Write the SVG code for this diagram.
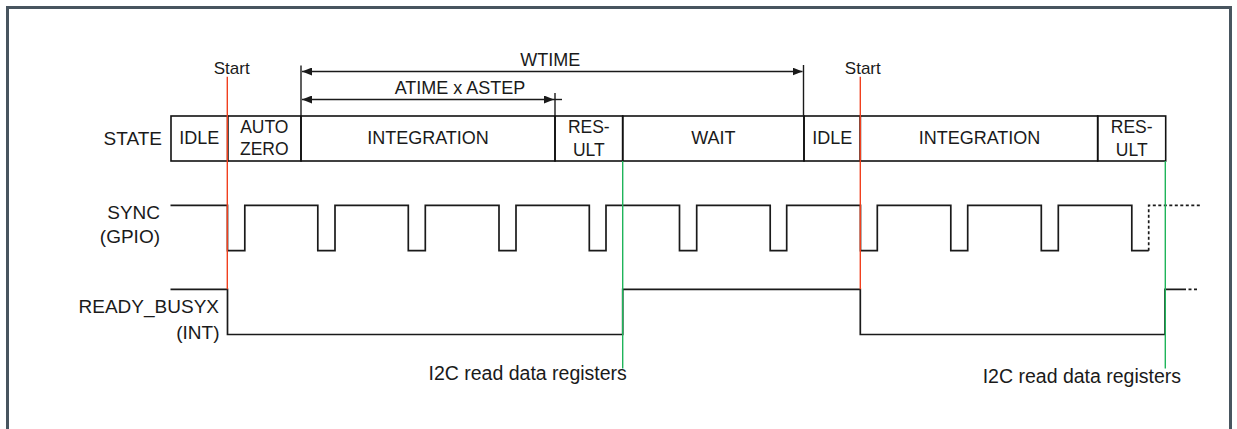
<svg xmlns="http://www.w3.org/2000/svg" width="1237" height="429" viewBox="0 0 1237 429">
<style>
text{font-family:"Liberation Sans",Arial,sans-serif;fill:#1a1a1a}
.lbl{font-size:19px}
.st{font-size:18px;text-anchor:middle}
.st2{font-size:17.5px;text-anchor:middle}
.ann{font-size:18px;text-anchor:middle}
.cell{fill:none;stroke:#111;stroke-width:1.6}
.wave{fill:none;stroke:#1a1a1a;stroke-width:1.7;stroke-linejoin:miter}
.dash{fill:none;stroke:#1a1a1a;stroke-width:1.7;stroke-dasharray:3 2.5}
.red{stroke:#f0401e;stroke-width:1.4;fill:none}
.grn{stroke:#1fb45a;stroke-width:1.4;fill:none}
.dim{stroke:#1a1a1a;stroke-width:1.4;fill:none}
</style>
<defs>
<marker id="ah" viewBox="0 0 10 8" refX="10" refY="4" markerWidth="10" markerHeight="8" markerUnits="userSpaceOnUse" orient="auto-start-reverse">
<path d="M0,0 L10,4 L0,8 z" fill="#1a1a1a"/>
</marker>
</defs>
<rect x="7.5" y="7.5" width="1223" height="440" fill="#fff" stroke="#48555f" stroke-width="3"/>

<g id="state-label"><text class="lbl" x="162" y="145" text-anchor="end">STATE</text></g>
<g id="sync-label"><text class="lbl" x="160" y="218.5" text-anchor="end">SYNC</text><text class="lbl" x="160" y="242.5" text-anchor="end">(GPIO)</text></g>
<g id="ready-label"><text class="lbl" x="219" y="312.5" text-anchor="end">READY_BUSYX</text><text class="lbl" x="219.5" y="338.5" text-anchor="end">(INT)</text></g>

<g id="state-idle1"><rect class="cell" x="171" y="116" width="56.7" height="45"/><text class="st" x="199.3" y="144">IDLE</text></g>
<g id="state-autozero"><rect class="cell" x="227.7" y="116" width="73.3" height="45"/><text class="st2" x="264.3" y="133.3">AUTO</text><text class="st2" x="264.3" y="155">ZERO</text></g>
<g id="state-integration1"><rect class="cell" x="301" y="116" width="254" height="45"/><text class="st" x="428" y="144">INTEGRATION</text></g>
<g id="state-result1"><rect class="cell" x="555" y="116" width="67.7" height="45"/><text class="st2" x="588.8" y="133.3">RES-</text><text class="st2" x="588.8" y="155.5">ULT</text></g>
<g id="state-wait"><rect class="cell" x="622.7" y="116" width="181.3" height="45"/><text class="st" x="713.3" y="144">WAIT</text></g>
<g id="state-idle2"><rect class="cell" x="804" y="116" width="56.3" height="45"/><text class="st" x="832.2" y="144">IDLE</text></g>
<g id="state-integration2"><rect class="cell" x="860.3" y="116" width="237.4" height="45"/><text class="st" x="979.5" y="144">INTEGRATION</text></g>
<g id="state-result2"><rect class="cell" x="1097.7" y="116" width="68" height="45"/><text class="st2" x="1131.7" y="133.3">RES-</text><text class="st2" x="1131.7" y="155.5">ULT</text></g>

<g id="sync-wave">
<path class="wave" d="M170.5,205.3 H227.5 V250.7 H244.8 V205.3 H317.8 V250.7 H335 V205.3 H408.3 V250.7 H425.3 V205.3 H499 V250.7 H516 V205.3 H589.3 V250.7 H606 V205.3 H679.5 V250.7 H696.7 V205.3 H770.2 V250.7 H786.7 V205.3 H860.5 V250.7 H877.3 V205.3 H950.8 V250.7 H967.7 V205.3 H1041.3 V250.7 H1058.3 V205.3 H1131.8 V250.7 H1148.7"/>
<path class="dash" d="M1148.7,250.7 V205.3 H1200"/>
</g>
<g id="ready-wave">
<path class="wave" d="M170.5,289.3 H227.5 V334.5 H622.7 V289.3 H860.3 V334.5 H1165 V289.3 H1183"/>
<path class="dash" d="M1183,289.3 H1199"/>
</g>

<g id="start1"><text class="ann" x="231.7" y="74" style="font-size:17px">Start</text></g>
<g id="start2"><text class="ann" x="862.8" y="74" style="font-size:17px">Start</text></g>
<g id="i2c1"><text class="lbl" x="428.5" y="380" style="font-size:19.5px">I2C read data registers</text></g>
<g id="i2c2"><text class="lbl" x="982.7" y="383" style="font-size:19.5px">I2C read data registers</text></g>
<g id="wtime-label"><text class="ann" x="550.3" y="66">WTIME</text></g>
<g id="atime-label"><text class="ann" x="460" y="94">ATIME x ASTEP</text></g>

<g id="connectors">
<line class="dim" x1="301" y1="65.5" x2="301" y2="116"/>
<line class="dim" x1="803.5" y1="65" x2="803.5" y2="116"/>
<line class="dim" x1="555" y1="93" x2="555" y2="116"/>
<line class="dim" x1="302" y1="71.5" x2="802.5" y2="71.5" marker-start="url(#ah)" marker-end="url(#ah)"/>
<line class="dim" x1="302" y1="99.5" x2="554" y2="99.5" marker-start="url(#ah)" marker-end="url(#ah)"/>
<line class="dim" x1="554" y1="99.5" x2="562" y2="99.5"/>
<line class="red" x1="227.3" y1="76.7" x2="227.3" y2="289.3"/>
<line class="red" x1="860.3" y1="76.7" x2="860.3" y2="289.3"/>
<line class="grn" x1="622.7" y1="161" x2="622.7" y2="368.5"/>
<line class="grn" x1="1165.3" y1="161" x2="1165.3" y2="368.5"/>
</g>
</svg>
